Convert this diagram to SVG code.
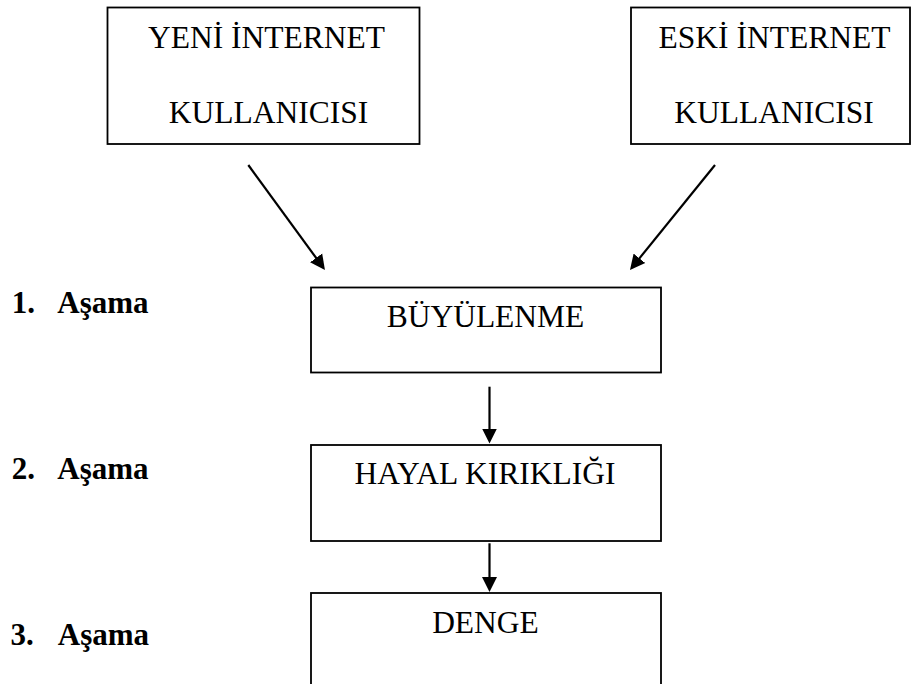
<svg xmlns="http://www.w3.org/2000/svg" width="912" height="684" viewBox="0 0 912 684">
  <style>
    .box { fill: #ffffff; stroke: #000000; stroke-width: 1.8; }
    .t { font-family: "Liberation Serif", "Times New Roman", serif; font-size: 31.5px; fill: #000000; text-anchor: middle; }
    .lbl { font-family: "Liberation Serif", "Times New Roman", serif; font-size: 31px; font-weight: bold; fill: #000000; }
    .conn { stroke: #000000; stroke-width: 2.2; fill: none; marker-end: url(#ah); }
  </style>
  <defs>
    <marker id="ah" markerUnits="userSpaceOnUse" markerWidth="18" markerHeight="18" refX="1" refY="0" viewBox="0 -9 18 18" orient="auto">
      <path d="M0,-7.5 L15,0 L0,7.5 z" fill="#000000"/>
    </marker>
  </defs>
  <rect width="912" height="684" fill="#ffffff"/>

  <g id="node-yeni">
    <rect class="box" x="107.5" y="7.5" width="312" height="136.5"/>
    <text class="t" x="266.5" y="48">YENİ İNTERNET</text>
    <text class="t" x="268.5" y="123">KULLANICISI</text>
  </g>

  <g id="node-eski">
    <rect class="box" x="631" y="7.5" width="279" height="136.5"/>
    <text class="t" x="774.5" y="48">ESKİ İNTERNET</text>
    <text class="t" x="774" y="123">KULLANICISI</text>
  </g>

  <g id="node-buyulenme">
    <rect class="box" x="311" y="287.5" width="350" height="85"/>
    <text class="t" x="485.5" y="327">BÜYÜLENME</text>
  </g>

  <g id="node-hayal">
    <rect class="box" x="311" y="445" width="350" height="96"/>
    <text class="t" x="485" y="484">HAYAL KIRIKLIĞI</text>
  </g>

  <g id="node-denge">
    <rect class="box" x="311" y="593" width="350" height="110"/>
    <text class="t" x="485.5" y="633">DENGE</text>
  </g>

  <g id="stage-labels">
    <text class="lbl" y="313"><tspan x="11.7">1.</tspan><tspan x="57.3">Aşama</tspan></text>
    <text class="lbl" y="479"><tspan x="11.7">2.</tspan><tspan x="57.3">Aşama</tspan></text>
    <text class="lbl" y="645"><tspan x="10.5">3.</tspan><tspan x="57.8">Aşama</tspan></text>
  </g>

  <g id="connectors">
    <line class="conn" x1="248.3" y1="165" x2="316.7" y2="258.7"/>
    <line class="conn" x1="715" y1="165" x2="638.8" y2="259.1"/>
    <line class="conn" x1="489.5" y1="386.7" x2="489.5" y2="429.5"/>
    <line class="conn" x1="489.5" y1="543.3" x2="489.5" y2="578"/>
  </g>
</svg>
